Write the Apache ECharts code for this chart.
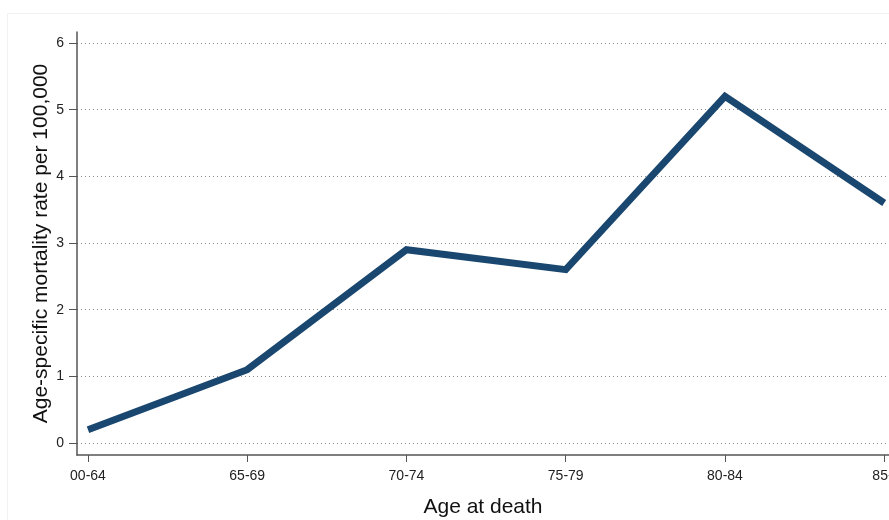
<!DOCTYPE html>
<html>
<head>
<meta charset="utf-8">
<script src="https://cdn.jsdelivr.net/npm/echarts@6/dist/echarts.min.js"></script>
<style>html,body{margin:0;padding:0;background:#fff;}#c{width:889px;height:520px;}</style>
</head>
<body>
<div id="c"></div>
<script>
const categories = ['00-64', '65-69', '70-74', '75-79', '80-84', '85+'];
const rates = [0.2, 1.1, 2.9, 2.6, 5.2, 3.6];
const yTicks = [0, 1, 2, 3, 4, 5, 6];

const chart = echarts.init(document.getElementById('c'));
const font = 'Liberation Sans, Arial, sans-serif';
const xIdx = categories.map((_, i) => i);

chart.setOption({
  animation: false,
  graphic: [{
    type: 'rect', shape: { x: 7.5, y: 13.5, width: 900, height: 520 },
    style: { fill: 'none', stroke: '#f2f2f2', lineWidth: 1 }, silent: true
  }],
  grid: [
    { left: 77, right: 0, top: 32, bottom: 65, outerBoundsMode: 'none', containLabel: false },
    { left: 77, right: 0, top: 43, bottom: 77, outerBoundsMode: 'none', containLabel: false }
  ],
  xAxis: [
    {
      gridIndex: 0, type: 'value', min: -0.069, max: 5.03,
      axisLine: { show: true, onZero: false, lineStyle: { color: '#555', width: 1.5 } },
      axisTick: { show: true, customValues: xIdx, length: 7, lineStyle: { color: '#555' } },
      axisLabel: { show: true, customValues: xIdx, formatter: v => categories[Math.round(v)],
        color: '#222', fontSize: 14, fontFamily: font, margin: 14 },
      splitLine: { show: false },
      name: 'Age at death', nameLocation: 'middle', nameGap: 42,
      nameTextStyle: { fontSize: 21, fontFamily: font, color: '#111' }
    },
    {
      gridIndex: 1, type: 'value', min: -0.069, max: 5.03,
      axisLine: { show: false }, axisTick: { show: false }, axisLabel: { show: false },
      splitLine: { show: false }
    }
  ],
  yAxis: [
    {
      gridIndex: 0, type: 'value', min: -0.18, max: 6.17,
      axisLine: { show: true, onZero: false, lineStyle: { color: '#555', width: 1.5 } },
      axisTick: { show: false }, axisLabel: { show: false }, splitLine: { show: false },
      name: 'Age-specific mortality rate per 100,000', nameLocation: 'middle', nameGap: 25,
      nameTextStyle: { fontSize: 21, fontFamily: font, color: '#111' }
    },
    {
      gridIndex: 1, type: 'value', min: 0, max: 6, interval: 1,
      axisLine: { show: false, onZero: false },
      axisTick: { show: true, length: 8, lineStyle: { color: '#555' } },
      axisLabel: { show: true, color: '#222', fontSize: 14, fontFamily: font, margin: 13,
        formatter: v => yTicks.includes(v) ? String(v) : '' },
      splitLine: { show: true, lineStyle: { color: '#888', type: [1, 3], width: 1 } }
    }
  ],
  series: [{
    type: 'line', xAxisIndex: 1, yAxisIndex: 1,
    data: rates.map((v, i) => [i, v]),
    symbol: 'none',
    lineStyle: { color: '#1a476f', width: 7, join: 'miter' },
    z: 5
  }]
});
</script>
</body>
</html>
